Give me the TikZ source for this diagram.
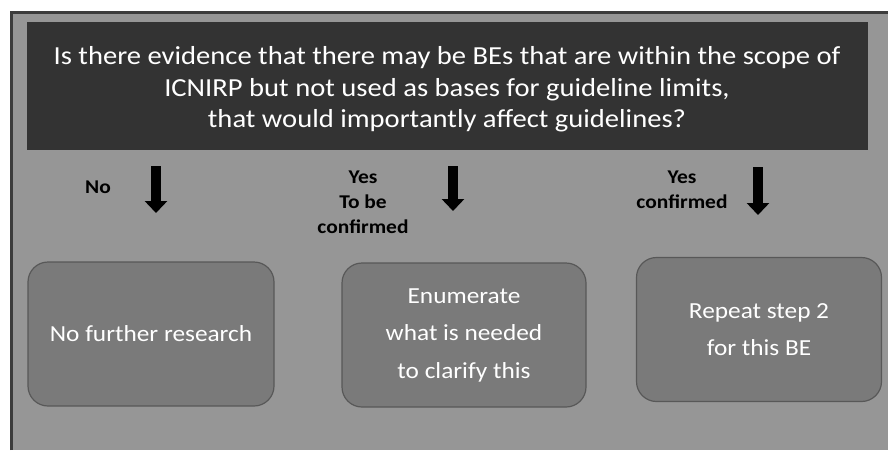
\documentclass[tikz,border=0pt]{standalone}
\usepackage{fontspec}
\setmainfont{Carlito}[FakeStretch=1.1]
\usetikzlibrary{arrows.meta}
\definecolor{bggray}{RGB}{150,150,150}
\definecolor{framegray}{RGB}{60,60,60}
\definecolor{darkbox}{RGB}{51,51,51}
\definecolor{boxfill}{RGB}{122,122,122}
\definecolor{boxline}{RGB}{88,88,88}
\tikzset{
  questionbox/.style={fill=darkbox, draw=none, inner sep=0pt},
  question/.style={text=white, align=center, inner sep=0pt,
    font=\fontsize{26}{31.5}\selectfont},
  answerbox/.style={fill=boxfill, draw=boxline, line width=1.2pt, rounded corners=20pt,
    text=white, align=center, font=\fontsize{23}{37.5}\selectfont, inner sep=0pt},
  lbl/.style={align=center, font=\bfseries\fontsize{19.5}{25}\selectfont, text=black},
  bigarrow/.style={line width=10pt, -{Triangle[width=22pt,length=12pt]}, black}
}
\begin{document}
\begin{tikzpicture}[x=1pt,y=-1pt]
\useasboundingbox (0,0) rectangle (888,450);
\fill[white] (0,0) rectangle (888,450);
\fill[bggray] (10,11) rectangle (888,450);
\draw[framegray, line width=3pt] (11,450) -- (11,12.5) -- (888,12.5);
% question
\node[questionbox, minimum width=841pt, minimum height=128pt] (qbox) at (447.5,86) {};
\node[question] (q) at (447,89.5)
  {Is there evidence that there may be BEs that are within the scope of\\
   ICNIRP but not used as bases for guideline limits,\\
   that would importantly affect guidelines?};
% boxes
\node[answerbox, minimum width=246pt, minimum height=144pt] (b1) at (151,334) {No further research};
\node[answerbox, minimum width=244pt, minimum height=144pt] (b2) at (464,335)
  {Enumerate\\what is needed\\to clarify this};
\node[answerbox, minimum width=245pt, minimum height=144pt] (b3) at (759,329.5)
  {Repeat step 2\\for this BE};
% arrows
\coordinate (a1s) at (156,166); \coordinate (a1e) at (156,213);
\coordinate (a2s) at (453,166); \coordinate (a2e) at (453,211);
\coordinate (a3s) at (758,167); \coordinate (a3e) at (758,215);
\draw[bigarrow] (a1s) -- (a1e);
\draw[bigarrow] (a2s) -- (a2e);
\draw[bigarrow] (a3s) -- (a3e);
% labels
\node[lbl] (l1) at (98,187) {No};
\node[lbl] (l2) at (363,202) {Yes\\To be\\confirmed};
\node[lbl] (l3) at (682,190) {Yes\\confirmed};
\end{tikzpicture}
\end{document}
